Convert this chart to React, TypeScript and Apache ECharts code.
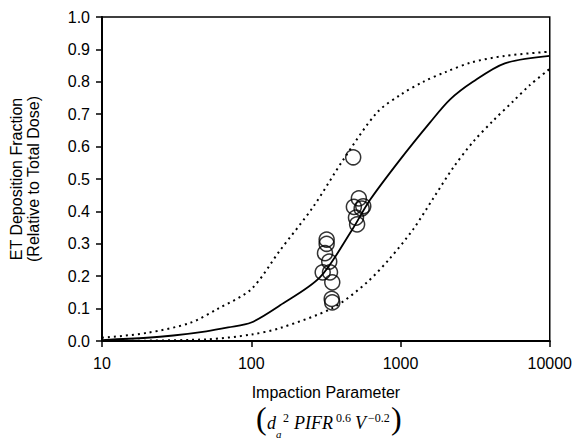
import React, { useEffect, useRef } from "react";
import * as echarts from "echarts";

// Impaction parameter (x) and ET deposition fraction (y)
const solidX = [10, 20, 30, 50, 70, 100, 156, 288, 472, 624, 991, 1574, 2143, 3055, 5000, 10000];
const solidY = [0.003, 0.01, 0.017, 0.03, 0.042, 0.057, 0.11, 0.196, 0.342, 0.435, 0.559, 0.674, 0.745, 0.8, 0.857, 0.88];

const upperX = [10, 20, 39, 60, 100, 156, 260, 413, 692, 1000, 1419, 2000, 3000, 5000, 10000];
const upperY = [0.01, 0.025, 0.056, 0.1, 0.16, 0.28, 0.414, 0.559, 0.704, 0.76, 0.8, 0.83, 0.86, 0.88, 0.893];

const lowerX = [10, 50, 100, 156, 354, 593, 849, 1217, 1656, 2254, 3069, 4178, 5689, 7360, 10000];
const lowerY = [0.0, 0.005, 0.02, 0.04, 0.103, 0.18, 0.255, 0.345, 0.44, 0.535, 0.615, 0.68, 0.74, 0.79, 0.84];

const obsX = [482, 526, 487, 563, 549, 503, 512, 320, 320, 312, 333, 301, 337, 349, 346, 349];
const obsY = [0.567, 0.44, 0.414, 0.416, 0.409, 0.381, 0.36, 0.313, 0.3, 0.271, 0.245, 0.212, 0.212, 0.181, 0.13, 0.119];

const xTicks = [10, 100, 1000, 10000];
const yTicks = [0, 0.1, 0.2, 0.3, 0.4, 0.5, 0.6, 0.7, 0.8, 0.9, 1.0];

const zip = (xs: number[], ys: number[]) => xs.map((x, i) => [x, ys[i]]);

export default function App() {
  const ref = useRef<HTMLDivElement>(null);
  useEffect(() => {
    if (!ref.current) return;
    const chart = echarts.init(ref.current, undefined, { renderer: "svg" });
    const sans = "'Liberation Sans', Arial, sans-serif";
    const serif = "'Liberation Serif', 'Times New Roman', serif";
    const t = (text: string, x: number, y: number, font: string) => ({
      type: "text",
      x,
      y,
      silent: true,
      style: { text, font, fill: "#000", verticalAlign: "top", align: "left" },
    });
    chart.setOption({
      animation: false,
      backgroundColor: "#fff",
      grid: {
        left: 102,
        right: 25,
        top: 17,
        bottom: 97,
        show: true,
        borderColor: "#000",
        borderWidth: 1.5,
      },
      xAxis: {
        type: "log",
        logBase: 10,
        min: xTicks[0],
        max: xTicks[xTicks.length - 1],
        name: "Impaction Parameter",
        nameLocation: "middle",
        nameGap: 43,
        nameTextStyle: { color: "#000", fontFamily: sans, fontSize: 16 },
        axisLine: { lineStyle: { color: "#000", width: 2 } },
        axisTick: { show: true, inside: false, length: 6, lineStyle: { color: "#000", width: 1.5 } },
        minorTick: { show: false },
        splitLine: { show: false },
        axisLabel: {
          color: "#000",
          fontFamily: sans,
          fontSize: 16,
          margin: 14,
          formatter: (v: number) => String(Math.round(v)),
        },
      },
      yAxis: {
        type: "value",
        min: yTicks[0],
        max: yTicks[yTicks.length - 1],
        interval: 0.1,
        name: "ET Deposition Fraction\n(Relative to Total Dose)",
        nameLocation: "middle",
        nameGap: 60,
        nameTextStyle: { color: "#000", fontFamily: sans, fontSize: 16, lineHeight: 17 },
        axisLine: { show: true, lineStyle: { color: "#000", width: 2 } },
        axisTick: { show: true, inside: false, length: 6, lineStyle: { color: "#000", width: 1.5 } },
        splitLine: { show: false },
        axisLabel: {
          color: "#000",
          fontFamily: sans,
          fontSize: 16,
          margin: 12,
          formatter: (v: number) => v.toFixed(1),
        },
      },
      series: [
        {
          type: "line",
          data: zip(upperX, upperY),
          showSymbol: false,
          smooth: 0.3,
          lineStyle: { color: "#000", width: 2, type: [2, 4] },
        },
        {
          type: "line",
          data: zip(lowerX, lowerY),
          showSymbol: false,
          smooth: 0.3,
          lineStyle: { color: "#000", width: 2, type: [2, 4] },
        },
        {
          type: "line",
          data: zip(solidX, solidY),
          showSymbol: false,
          smooth: 0.3,
          lineStyle: { color: "#000", width: 1.8 },
        },
        {
          type: "scatter",
          data: zip(obsX, obsY),
          symbol: "circle",
          symbolSize: 15,
          itemStyle: { color: "rgba(255,255,255,0)", borderColor: "#000", borderWidth: 1.5 },
        },
      ],
      graphic: [
        t("(", 256, 402, `32px ${serif}`),
        t("d", 267, 414, `italic 18px ${serif}`),
        t("a", 276, 428, `italic 11px ${serif}`),
        t("2", 283, 412, `12px ${serif}`),
        t("PIFR", 294, 414, `italic 18px ${serif}`),
        t("0.6", 336, 412, `12px ${serif}`),
        t("V", 355, 414, `italic 18px ${serif}`),
        t("\u22120.2", 368, 412, `12px ${serif}`),
        t(")", 391, 402, `32px ${serif}`),
      ],
    });
    return () => chart.dispose();
  }, []);
  return (
    <div
      ref={ref}
      style={{ position: "absolute", left: 0, top: 0, width: 575, height: 438 }}
    />
  );
}
